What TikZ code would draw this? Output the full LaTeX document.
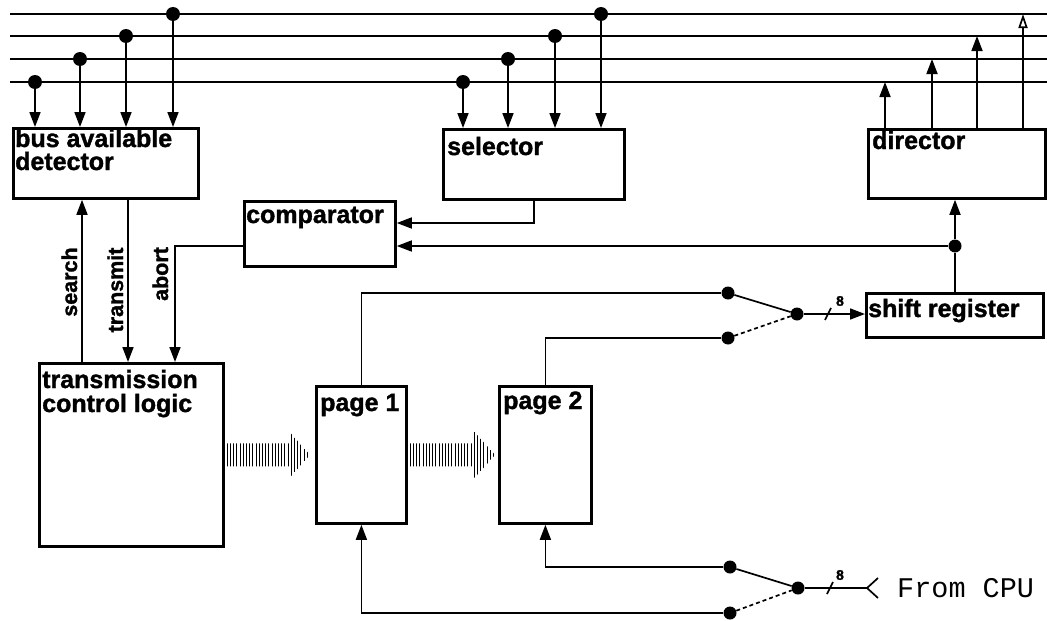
\documentclass[tikz,border=0pt]{standalone}
\usepackage{fontspec}
\newfontfamily\hvh{Liberation Sans Bold}[FakeBold=1.4]
\newfontfamily\cour{Liberation Mono}
\usetikzlibrary{arrows.meta,calc}

% horizontal hatched transfer arrow from #1 to tip #2
\newcommand\hatchedarrow[2]{%
  \begin{scope}
    \clip ($(#1)+(0,-11.5)$) -- ($(#2)+(-21,-11.5)$) -- ($(#2)+(-21,-23.5)$)
      -- (#2) -- ($(#2)+(-21,23.5)$) -- ($(#2)+(-21,11.5)$)
      -- ($(#1)+(0,11.5)$) -- cycle;
    \foreach \i in {0,...,40}
      \draw[hatch] ($(#1)+(1+3.2*\i,-30)$) -- ++(0,60);
  \end{scope}}

\begin{document}
\begin{tikzpicture}[x=1pt,y=-1pt]
\tikzset{
  blk/.style={draw, line width=2.8pt, inner sep=0pt, anchor=north west},
  lbl/.style={font=\hvh\fontsize{25}{25}\selectfont, anchor=base west, inner sep=0pt},
  sig/.style={font=\hvh\fontsize{21.5}{21.5}\selectfont, rotate=90, anchor=base, inner sep=0pt},
  wire/.style={line width=1.7pt},
  bus/.style={line width=1.6pt},
  arr/.style={wire, -{Triangle[length=15pt,width=11pt]}},
  openarr/.style={wire, -{Triangle[open,length=14pt,width=9pt]}},
  dot/.style={circle, fill, inner sep=0pt, minimum size=14pt},
  sdot/.style={circle, fill, inner sep=0pt, minimum size=13pt},
  hatch/.style={line width=1.1pt},
  small/.style={font=\hvh\fontsize{14}{14}\selectfont, inner sep=0pt},
}
\useasboundingbox (0,0) rectangle (1047,621);

% bus lines
\coordinate (b1) at (10,14);
\coordinate (b2) at (10,36);
\coordinate (b3) at (10,59);
\coordinate (b4) at (10,82);
\foreach \b in {b1,b2,b3,b4}
  \draw[bus] (\b) -- (1047,0 |- \b);

% blocks
\node[blk, minimum width=185pt, minimum height=70pt] (det) at (12,127) {};
\node[blk, minimum width=181pt, minimum height=70pt] (sel) at (442,128) {};
\node[blk, minimum width=177pt, minimum height=69pt] (dir) at (867,128) {};
\node[blk, minimum width=151pt, minimum height=65pt] (cmp) at (243,200) {};
\node[blk, minimum width=177pt, minimum height=44pt] (sr) at (865,292) {};
\node[blk, minimum width=184pt, minimum height=183pt] (tcl) at (38,362) {};
\node[blk, minimum width=90pt, minimum height=137pt] (p1) at (315,385) {};
\node[blk, minimum width=92pt, minimum height=137pt] (p2) at (498,385) {};

% block titles
\node[lbl] (tdet1) at (15,147) {bus available};
\node[lbl] (tdet2) at (15,170) {detector};
\node[lbl] (tsel) at (447,155) {selector};
\node[lbl] (tdir) at (872,149) {director};
\node[lbl] (tcmp) at (246,223) {comparator};
\node[lbl] (tsr) at (868,317) {shift register};
\node[lbl] (ttcl1) at (42,388) {transmission};
\node[lbl] (ttcl2) at (42,412) {control logic};
\node[lbl] (tp1) at (320,411) {page 1};
\node[lbl] (tp2) at (503,409) {page 2};

% bus taps into the detector and the selector
\foreach \x/\b in {35/b4,80/b3,126/b2,173/b1} {
  \node[dot] (dd\x) at (\x,0 |- \b) {};
  \draw[arr] (dd\x) -- (dd\x |- det.north);
}
\foreach \x/\b in {463/b4,508/b3,555/b2,601/b1} {
  \node[dot] (sd\x) at (\x,0 |- \b) {};
  \draw[arr] (sd\x) -- (sd\x |- sel.north);
}
% director drives the bus
\foreach \x/\b in {885/b4,932/b3,977/b2}
  \draw[arr] (dir.north -| \x,0) -- (\x,0 |- \b);
\draw[openarr] (dir.north -| 1023,0) -- (1023,0 |- b1);

% comparator inputs
\draw[arr] (sel.south) |- ($(cmp.north east)+(0,23)$);
\node[sdot] (jd) at (955,246) {};
\draw[wire] (sr.north -| jd) -- (jd);
\draw[arr] (jd) -- (jd |- dir.south);
\draw[arr] (jd) -- (jd -| cmp.east);

% control signals
\coordinate (ab) at (175,0);
\draw[arr] ($(cmp.north west)+(0,46)$) -| (ab |- tcl.north);
\draw[arr] (tcl.north -| 82,0) -- (det.south -| 82,0);
\draw[arr] (det.south -| 128,0) -- (tcl.north -| 128,0);
\node[sig] (lsearch) at (77,282) {search};
\node[sig] (ltrans) at (123,290) {transmit};
\node[sig] (labort) at (168,274) {abort};

% page transfers
\coordinate (h1s) at ($(tcl.east |- p1.west)+(1.5,0)$);
\coordinate (h1e) at ($(p1.west)+(-5,0)$);
\coordinate (h2s) at ($(p1.east)+(1.5,0)$);
\coordinate (h2e) at ($(p2.west)+(-3,0)$);
\hatchedarrow{h1s}{h1e}
\hatchedarrow{h2s}{h2e}

% output switch to the shift register
\node[sdot] (sa) at (728,293) {};
\node[sdot] (sb) at (728,338) {};
\node[sdot] (sc) at (797,314) {};
\draw[wire] (p1.north) |- (sa);
\draw[wire] (p2.north) |- (sb);
\draw[wire] (sa) -- (sc);
\draw[wire, dash pattern=on 4pt off 3pt] (sb) -- (sc);
\draw[arr] (sc) -- (sc -| sr.west);
\draw[wire] ($(sc)+(28,6)$) -- ++(6,-12);
\node[small] (n8a) at (840,301) {8};

% input switch from the CPU
\node[sdot] (ta) at (730,567) {};
\node[sdot] (tb) at (730,613) {};
\node[sdot] (tc) at (798,588) {};
\draw[arr] (ta) -| (p2.south);
\draw[arr] (tb) -| (p1.south);
\draw[wire] (ta) -- (tc);
\draw[wire, dash pattern=on 4pt off 3pt] (tb) -- (tc);
\node[anchor=west, font=\cour\fontsize{28.5}{28.5}\selectfont, inner sep=0pt] (cpu) at (897,588) {From CPU};
\coordinate (ce) at ($(cpu.west)+(-30,0)$);
\draw[wire] (tc) -- (ce);
\draw[wire] ($(ce)+(11,-10)$) -- (ce) -- ($(ce)+(11,10)$);
\draw[wire] ($(tc)+(29,6)$) -- ++(6,-12);
\node[small] (n8b) at (840,575) {8};
\end{tikzpicture}
\end{document}
